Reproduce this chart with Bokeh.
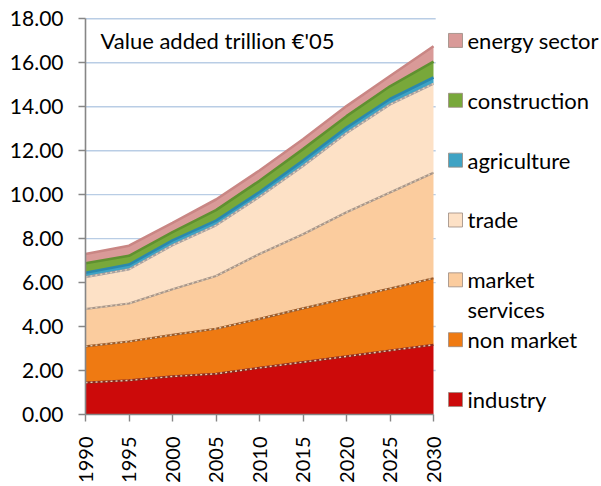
import math
from bokeh.plotting import figure
from bokeh.models import Range1d, FixedTicker, NumeralTickFormatter, Label
from bokeh.core.properties import value
from bokeh.embed import file_html
from bokeh.resources import INLINE

# ---- data (trillion EUR 2005, value added) ----
years = [1990, 1995, 2000, 2005, 2010, 2015, 2020, 2025, 2030]
industry = [1.45, 1.55, 1.73, 1.85, 2.12, 2.38, 2.64, 2.91, 3.17]
non_market = [1.65, 1.77, 1.89, 2.05, 2.23, 2.45, 2.64, 2.82, 3.03]
market_services = [1.70, 1.73, 2.08, 2.40, 2.95, 3.37, 3.92, 4.37, 4.80]
trade = [1.45, 1.55, 2.00, 2.30, 2.60, 3.10, 3.60, 4.00, 4.05]
agriculture = [0.20, 0.22, 0.22, 0.22, 0.22, 0.25, 0.25, 0.25, 0.28]
construction = [0.43, 0.40, 0.38, 0.48, 0.51, 0.52, 0.52, 0.58, 0.72]
energy_sector = [0.42, 0.46, 0.42, 0.48, 0.47, 0.45, 0.46, 0.47, 0.70]

series_names = ["industry", "non market", "market services", "trade",
                "agriculture", "construction", "energy sector"]
series_values = [industry, non_market, market_services, trade,
                 agriculture, construction, energy_sector]
legend_labels = ["industry", "non market", "market\nservices", "trade",
                 "agriculture", "construction", "energy sector"]

x_ticks = [1990, 1995, 2000, 2005, 2010, 2015, 2020, 2025, 2030]
y_ticks = [0, 2, 4, 6, 8, 10, 12, 14, 16, 18]
title_text = "Value added trillion \u20ac'05"

# ---- styles ----
fills = ["#CC0A0A", "#EF7A12", "#FBCC9E", "#FDE1C6", "#3FA3C4", "#78A83A", "#D99A98"]
tops = ["#8E2A1E", "#9A5A2A", "#A8968A", "#A8A0A0", "#2A88AE", "#5F9130", "#C98684"]
FONT = "Lato"

# ---- geometry (canvas pixels) ----
W, H = 600, 485
frame_left, frame_right = 85, 600
frame_top, frame_bottom = 16, 415
px_per_year = 348 / 40.0
px_per_unit = (frame_bottom - 18.3) / 18.0
x_start = 1990
x_end = x_start + (frame_right - frame_left) / px_per_year
y_end = (frame_bottom - frame_top) / px_per_unit

p = figure(width=W, height=H, output_backend="svg", toolbar_location=None,
           x_range=Range1d(x_start, x_end), y_range=Range1d(0, y_end))
p.min_border_left = frame_left
p.min_border_right = W - frame_right
p.min_border_top = frame_top
p.min_border_bottom = H - frame_bottom
p.outline_line_color = None
p.background_fill_color = "white"
p.border_fill_color = "white"
p.xgrid.visible = False
p.ygrid.visible = False

# gridlines (only across the data region)
grid_y = [t for t in y_ticks if t > 0]
p.segment(x0=[x_ticks[0]] * len(grid_y), x1=[x_ticks[-1] + 0.25] * len(grid_y),
          y0=grid_y, y1=grid_y, line_color="#B9CDE5", line_width=1.4)

# stacked areas
bottom = [0.0] * len(years)
for i, vals in enumerate(series_values):
    top = [b + v for b, v in zip(bottom, vals)]
    p.varea(x=years, y1=bottom, y2=top, fill_color=fills[i])
    bottom = top

# boundary lines
bottom = [0.0] * len(years)
for i, vals in enumerate(series_values):
    top = [b + v for b, v in zip(bottom, vals)]
    if i < 4:
        p.line(years, top, line_color=tops[i], line_width=2.2)
        p.line(years, top, line_color="#E2D0B8", line_width=1.4, line_dash="2 3")
    else:
        p.line(years, top, line_color=tops[i], line_width=2.6)
    bottom = top

# axes
p.xaxis.bounds = (x_ticks[0], x_ticks[-1])
p.yaxis.bounds = (0, y_ticks[-1])
p.xaxis.ticker = FixedTicker(ticks=x_ticks)
p.yaxis.ticker = FixedTicker(ticks=y_ticks)
p.yaxis.formatter = NumeralTickFormatter(format="0.00")
for ax in (p.xaxis, p.yaxis):
    ax.axis_line_color = "#868686"
    ax.axis_line_width = 1.6
    ax.major_tick_line_color = "#868686"
    ax.major_tick_line_width = 1.4
    ax.major_tick_out = 7
    ax.major_tick_in = 0
    ax.minor_tick_line_color = None
    ax.major_label_text_color = "#000000"
    ax.major_label_text_font = FONT
p.yaxis.major_label_text_font_size = "21px"
p.yaxis.major_label_standoff = 15
p.xaxis.major_label_text_font_size = "20px"
p.xaxis.major_label_orientation = math.pi / 2
p.xaxis.major_label_standoff = 15

def px_x(px):   # canvas x -> data x
    return x_start + (px - frame_left) / px_per_year

def px_y(py):   # canvas y -> data y
    return (frame_bottom - py) / px_per_unit

# title inside the plot
p.add_layout(Label(x=px_x(100), y=px_y(40.5), text=title_text, text_font=FONT,
                   text_font_size="22px", text_baseline="middle", text_color="#000000"))

# legend (drawn manually, top to bottom = reverse of stack order)
n = len(series_names)
sq_x, sq_y, sq_c = [], [], []
tx, ty, tt = [], [], []
for k in range(n):
    idx = n - 1 - k
    cy = 40 + 60 * k
    sq_x.append(px_x(455))
    sq_y.append(px_y(cy))
    sq_c.append(fills[idx])
    for j, line in enumerate(legend_labels[idx].split("\n")):
        tx.append(px_x(467))
        ty.append(px_y(cy + 30 * j))
        tt.append(line)
p.scatter(sq_x, sq_y, marker="square", size=14, fill_color=sq_c, line_color="#9a8a80",
          line_width=0.8)
p.text(tx, ty, text=tt, text_font=value(FONT), text_font_size="22px",
       text_baseline="middle", text_align="left", text_color="#000000")

open("out.html", "w").write(file_html(p, INLINE))
